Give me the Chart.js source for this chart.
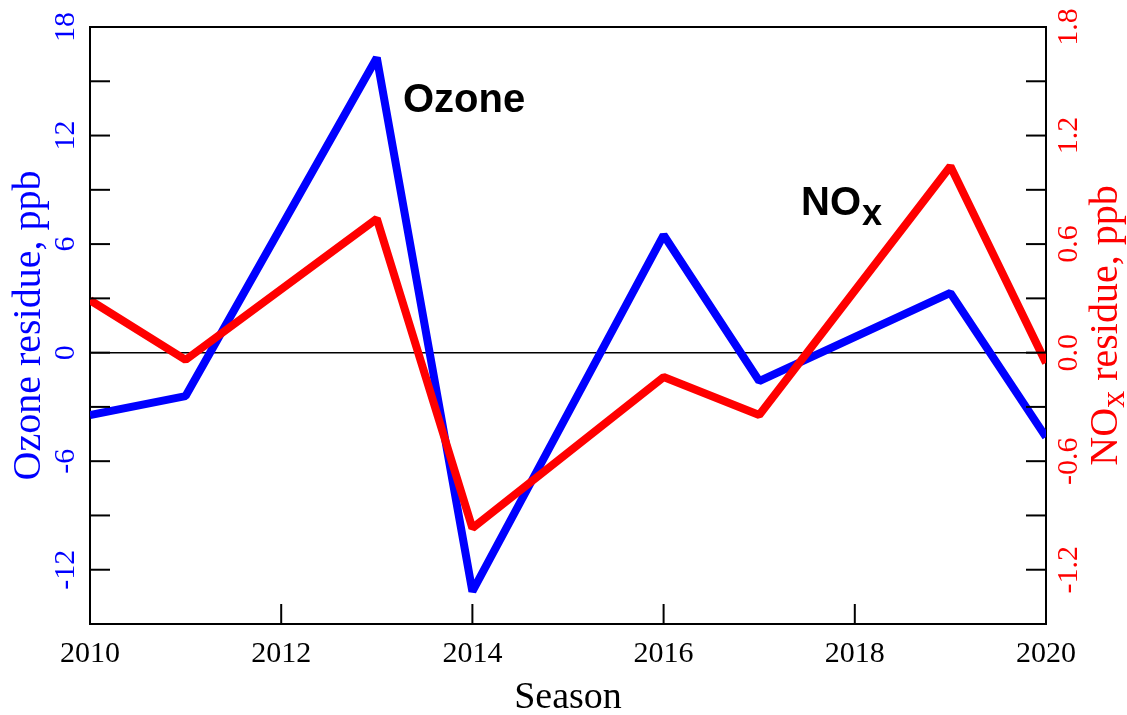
<!DOCTYPE html>
<html><head><meta charset="utf-8">
<script src="https://cdn.jsdelivr.net/npm/chart.js@4"></script>
<style>html,body{margin:0;padding:0;background:#fff}#wrap{width:1127px;height:715px}</style>
</head><body><div id="wrap"><canvas id="c" width="1127" height="715"></canvas></div>
<script>
const years = [2010, 2011, 2013, 2014, 2016, 2017, 2019, 2020];
const ozone = [-3.45, -2.4, 16.3, -13.2, 6.5, -1.57, 3.3, -4.67];
const nox = [0.29, -0.04, 0.74, -0.97, -0.135, -0.345, 1.03, -0.057];
const xTickLabels = ['2010', '2012', '2014', '2016', '2018', '2020'];
const ozoneTickLabels = ['-12', '-6', '0', '6', '12', '18'];
const noxTickLabels = ['-1.2', '-0.6', '0.0', '0.6', '1.2', '1.8'];

const SERIF = '"Liberation Serif", "Times New Roman", serif';
const SANS = '"Liberation Sans", Arial, sans-serif';

const decor = {
  id: 'decor',
  beforeDatasetsDraw(chart) {
    const {ctx, chartArea: a, scales} = chart;
    const y0 = scales.y.getPixelForValue(0);
    ctx.save();
    ctx.strokeStyle = '#000'; ctx.lineWidth = 1.5;
    ctx.beginPath(); ctx.moveTo(a.left, y0); ctx.lineTo(a.right, y0); ctx.stroke();
    ctx.restore();
  },
  afterDraw(chart) {
    const {ctx, chartArea: a, scales} = chart;
    const sx = scales.x, sy = scales.y, sy1 = scales.y1;
    ctx.save();
    ctx.strokeStyle = '#000'; ctx.lineWidth = 2;
    ctx.beginPath(); ctx.moveTo(a.left - 1, a.top); ctx.lineTo(a.right + 1, a.top); ctx.stroke();
    const TL = 20;
    sx.ticks.forEach(t => {
      if (t.value <= sx.min || t.value >= sx.max) return;
      const px = sx.getPixelForValue(t.value);
      ctx.beginPath(); ctx.moveTo(px, a.bottom); ctx.lineTo(px, a.bottom - TL); ctx.stroke();
    });
    sy.ticks.forEach(t => {
      if (t.value <= sy.min || t.value >= sy.max) return;
      const py = sy.getPixelForValue(t.value);
      ctx.beginPath(); ctx.moveTo(a.left, py); ctx.lineTo(a.left + TL, py); ctx.stroke();
    });
    sy1.ticks.forEach(t => {
      if (t.value <= sy1.min + 1e-9 || t.value >= sy1.max - 1e-9) return;
      const py = sy1.getPixelForValue(t.value);
      ctx.beginPath(); ctx.moveTo(a.right, py); ctx.lineTo(a.right - TL, py); ctx.stroke();
    });
    ctx.font = '30px ' + SERIF; ctx.fillStyle = '#000';
    ctx.textAlign = 'center'; ctx.textBaseline = 'alphabetic';
    xTickLabels.forEach(l => {
      ctx.fillText(l, sx.getPixelForValue(parseFloat(l)), a.bottom + 38);
    });
    const rot = (txt, x, y, color, font) => {
      ctx.save(); ctx.translate(x, y); ctx.rotate(-Math.PI / 2);
      ctx.font = font; ctx.fillStyle = color; ctx.textAlign = 'center'; ctx.textBaseline = 'alphabetic';
      ctx.fillText(txt, 0, 0); ctx.restore();
    };
    ozoneTickLabels.forEach(l => rot(l, a.left - 16, sy.getPixelForValue(parseFloat(l)), '#0000ff', '30px ' + SERIF));
    noxTickLabels.forEach(l => rot(l, a.right + 31, sy1.getPixelForValue(parseFloat(l)), '#ff0000', '30px ' + SERIF));
    const cy = (a.top + a.bottom) / 2;
    rot('Ozone residue, ppb', 40, cy, '#0000ff', '40px ' + SERIF);
    ctx.save(); ctx.translate(1117, cy); ctx.rotate(-Math.PI / 2);
    ctx.fillStyle = '#ff0000'; ctx.textBaseline = 'alphabetic'; ctx.textAlign = 'left';
    const f1 = '40px ' + SERIF, f2 = '34px ' + SERIF;
    ctx.font = f1; const w1 = ctx.measureText('NO').width, w3 = ctx.measureText(' residue, ppb').width;
    ctx.font = f2; const w2 = ctx.measureText('x').width;
    let x0 = -(w1 + w2 + w3) / 2;
    ctx.font = f1; ctx.fillText('NO', x0, 0);
    ctx.font = f2; ctx.fillText('x', x0 + w1, 7);
    ctx.font = f1; ctx.fillText(' residue, ppb', x0 + w1 + w2, 0);
    ctx.restore();
    ctx.font = '38px ' + SERIF; ctx.fillStyle = '#000'; ctx.textAlign = 'center';
    ctx.fillText('Season', (a.left + a.right) / 2, 708);
    ctx.font = 'bold 40px ' + SANS; ctx.textAlign = 'left';
    ctx.fillText('Ozone', 403, 112);
    ctx.fillText('NO', 801, 215);
    const wNO = ctx.measureText('NO').width;
    ctx.font = 'bold 36px ' + SANS;
    ctx.fillText('x', 801 + wNO + 1, 225);
    ctx.restore();
  }
};

const ozoneData = years.map((yr, i) => ({x: yr, y: ozone[i]}));
const noxData = years.map((yr, i) => ({x: yr, y: nox[i]}));

new Chart(document.getElementById('c'), {
  type: 'line',
  data: {
    datasets: [
      {label: 'NOx', data: noxData, yAxisID: 'y1', borderColor: '#ff0000', borderWidth: 8,
       pointRadius: 0, tension: 0, borderJoinStyle: 'bevel', fill: false},
      {label: 'Ozone', data: ozoneData, yAxisID: 'y', borderColor: '#0000ff', borderWidth: 8,
       pointRadius: 0, tension: 0, borderJoinStyle: 'bevel', fill: false}
    ]
  },
  options: {
    responsive: false, animation: false, devicePixelRatio: 1,
    layout: {padding: {top: 27, left: 0, right: 0, bottom: 0}},
    plugins: {legend: {display: false}, tooltip: {enabled: false}},
    scales: {
      x: {type: 'linear', position: 'bottom', min: 2010, max: 2020,
          ticks: {stepSize: 2, display: false}, grid: {display: false},
          border: {display: true, color: '#000', width: 2},
          afterFit: s => { s.height = 91; }},
      y: {type: 'linear', position: 'left', min: -15, max: 18,
          ticks: {stepSize: 3, display: false}, grid: {display: false},
          border: {display: true, color: '#000', width: 2},
          afterFit: s => { s.width = 90; }},
      y1: {type: 'linear', position: 'right', min: -1.5, max: 1.8,
          ticks: {stepSize: 0.3, display: false}, grid: {display: false},
          border: {display: true, color: '#000', width: 2},
          afterFit: s => { s.width = 81; }}
    }
  },
  plugins: [decor]
});
</script>
</body></html>
